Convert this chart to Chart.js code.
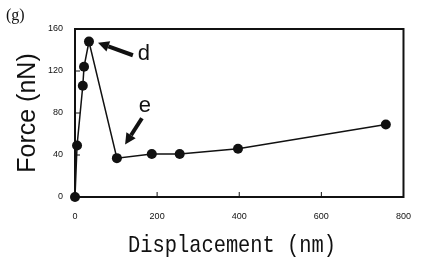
<!DOCTYPE html>
<html>
<head>
<meta charset="utf-8">
<script src="https://cdn.jsdelivr.net/npm/chart.js@4"></script>
<style>
  html, body { margin: 0; padding: 0; background: #fff; }
  #wrap { width: 425px; height: 269px; }
</style>
</head>
<body>
<div id="wrap"><canvas id="my"></canvas></div>
<script>
// displacement (nm) and force (nN)
const displacement = [0, 5, 19, 22, 34, 102, 187, 255, 397, 757];
const force = [0, 49, 106, 124, 148, 37, 41, 41, 46, 69];

const xTicks = [0, 200, 400, 600, 800];
const yTicks = [0, 40, 80, 120, 160];

// annotation arrows, in data units: [tailX, tailY, headX, headY]
const arrowD = [141, 135, 56, 147];
const arrowE = [163, 75, 122, 50];
const labelD = [168, 136];
const labelE = [170, 87];

const ink = '#111';

const frame = {
  id: 'frame',
  afterDraw(chart) {
    const c = chart.ctx, a = chart.chartArea;
    const xs = chart.scales.x, ys = chart.scales.y;
    c.save();
    c.strokeStyle = ink;
    c.lineWidth = 2;
    c.strokeRect(a.left, a.top, a.right - a.left, a.bottom - a.top);

    // inward tick marks
    c.lineWidth = 1;
    xTicks.forEach(function(v) {
      const px = xs.getPixelForValue(v);
      c.beginPath(); c.moveTo(px, a.bottom); c.lineTo(px, a.bottom - 5); c.stroke();
    });
    yTicks.forEach(function(v) {
      const py = ys.getPixelForValue(v);
      c.beginPath(); c.moveTo(a.left, py); c.lineTo(a.left + 5, py); c.stroke();
    });

    function arrow(p) {
      const x1 = xs.getPixelForValue(p[0]), y1 = ys.getPixelForValue(p[1]);
      const x2 = xs.getPixelForValue(p[2]), y2 = ys.getPixelForValue(p[3]);
      const ang = Math.atan2(y2 - y1, x2 - x1);
      const hl = 11, hw = 5.5;
      const bx = x2 - hl * Math.cos(ang), by = y2 - hl * Math.sin(ang);
      c.lineWidth = 4;
      c.beginPath(); c.moveTo(x1, y1); c.lineTo(bx, by); c.stroke();
      c.fillStyle = ink;
      c.beginPath();
      c.moveTo(x2, y2);
      c.lineTo(bx + hw * Math.sin(ang), by - hw * Math.cos(ang));
      c.lineTo(bx - hw * Math.sin(ang), by + hw * Math.cos(ang));
      c.closePath(); c.fill();
    }
    arrow(arrowD);
    arrow(arrowE);

    c.fillStyle = ink;
    c.font = '22px "Liberation Sans", Arial, sans-serif';
    c.textAlign = 'center';
    c.textBaseline = 'middle';
    c.fillText('d', xs.getPixelForValue(labelD[0]), ys.getPixelForValue(labelD[1]));
    c.fillText('e', xs.getPixelForValue(labelE[0]), ys.getPixelForValue(labelE[1]));

    c.font = '16px "Liberation Serif", "Times New Roman", serif';
    c.textAlign = 'left';
    c.fillText('(g)', 6, 16);

    // x axis title, condensed like the original gothic face
    c.save();
    c.translate(232, 246);
    c.scale(0.85, 1);
    c.font = '24px "Liberation Mono", "DejaVu Sans Mono", monospace';
    c.textAlign = 'center';
    c.textBaseline = 'middle';
    c.fillText('Displacement (nm)', 0, 0);
    c.restore();
    c.restore();
  }
};

new Chart(document.getElementById('my'), {
  type: 'scatter',
  data: {
    datasets: [{
      data: displacement.map(function(x, i) { return { x: x, y: force[i] }; }),
      showLine: true,
      borderColor: ink,
      borderWidth: 1.5,
      backgroundColor: ink,
      pointRadius: 5,
      pointBackgroundColor: ink,
      pointBorderWidth: 0,
      clip: false
    }]
  },
  options: {
    responsive: true,
    maintainAspectRatio: false,
    animation: false,
    layout: { padding: { top: 29, right: 21, left: 13, bottom: 10 } },
    plugins: { legend: { display: false }, tooltip: { enabled: false } },
    scales: {
      x: {
        type: 'linear', min: 0, max: 800,
        afterBuildTicks: function(s) { s.ticks = xTicks.map(function(v) { return { value: v }; }); },
        afterFit: function(s) { s.height = 62; },
        grid: { display: false, drawTicks: false },
        border: { display: false },
        ticks: { color: ink, padding: 14, font: { size: 9, family: 'Liberation Sans, Arial, sans-serif' } }
      },
      y: {
        type: 'linear', min: 0, max: 160,
        afterBuildTicks: function(s) { s.ticks = yTicks.map(function(v) { return { value: v }; }); },
        afterFit: function(s) { s.width = 62; },
        grid: { display: false, drawTicks: false },
        border: { display: false },
        ticks: { color: ink, padding: 12, font: { size: 9, family: 'Liberation Sans, Arial, sans-serif' } },
        title: { display: true, text: 'Force (nN)', color: ink, padding: 0,
                 font: { size: 25, family: '"Liberation Sans", Arial, sans-serif' } }
      }
    }
  },
  plugins: [frame]
});
</script>
</body>
</html>
